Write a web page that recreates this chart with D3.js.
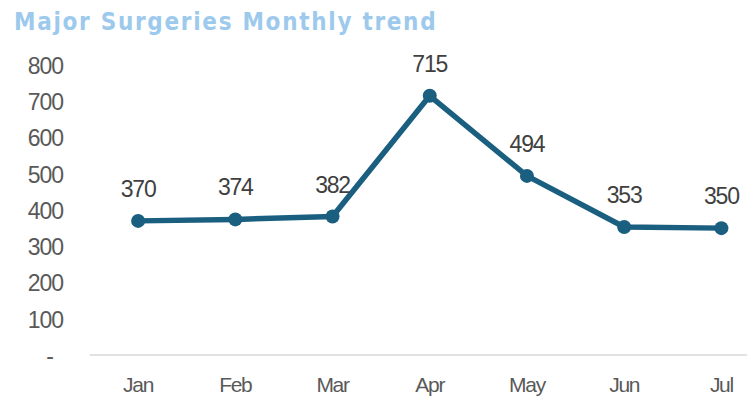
<!DOCTYPE html>
<html>
<head>
<meta charset="utf-8">
<script src="https://cdn.jsdelivr.net/npm/d3@7"></script>
<style>
  body { margin: 0; background: #fff; }
  svg { display: block; }
</style>
</head>
<body>
<svg width="747" height="405"></svg>
<script>
var months = ["Jan", "Feb", "Mar", "Apr", "May", "Jun", "Jul"];
var surgeries = [370, 374, 382, 715, 494, 353, 350];
var yTicks = [0, 100, 200, 300, 400, 500, 600, 700, 800];

var svg = d3.select("svg"),
    width = +svg.attr("width"),
    height = +svg.attr("height");

var x = d3.scaleBand()
    .domain(months)
    .range([89.5, 770]);

var y = d3.scaleLinear()
    .domain([0, 800])
    .range([355, 65]);

var labelFont = "'Liberation Sans', Arial, sans-serif";

// title
svg.append("text")
    .attr("x", 14)
    .attr("y", 30)
    .style("font-family", "'DejaVu Sans Condensed', 'DejaVu Sans', sans-serif")
    .style("font-weight", "bold")
    .style("font-size", "24px")
    .style("letter-spacing", "1.7px")
    .style("fill", "#9DCAEC")
    .text("Major Surgeries Monthly trend");

// y axis labels
var yAxis = d3.axisLeft(y)
    .tickValues(yTicks)
    .tickSize(0)
    .tickPadding(0)
    .tickFormat(function(d) { return d === 0 ? "-" : d; });

var yg = svg.append("g")
    .attr("transform", "translate(63,0)")
    .call(yAxis);
yg.select(".domain").remove();
yg.selectAll("text")
    .style("font-family", labelFont)
    .style("font-size", "23px")
    .style("letter-spacing", "-1px")
    .style("fill", "#595959")
    .attr("dy", "0.36em")
    .attr("x", function(d) { return d === 0 ? -10 : 0; });

// x axis
var xAxis = d3.axisBottom(x).tickSize(0).tickPadding(0);
var xg = svg.append("g")
    .attr("transform", "translate(0,355)")
    .call(xAxis);
xg.select(".domain")
    .attr("d", "M89.5,0H747")
    .style("stroke", "#d9d9d9")
    .style("stroke-width", 1.5);
xg.selectAll("text")
    .attr("y", 37)
    .attr("dy", "0")
    .style("font-family", labelFont)
    .style("font-size", "21px")
    .style("letter-spacing", "-1.3px")
    .style("fill", "#595959");

var cx = function(d, i) { return x(months[i]) + x.bandwidth() / 2; };

var line = d3.line()
    .x(function(d, i) { return cx(d, i); })
    .y(function(d) { return y(d); });

svg.append("path")
    .datum(surgeries)
    .attr("d", line)
    .style("fill", "none")
    .style("stroke", "#1A5F80")
    .style("stroke-width", 5.5)
    .style("stroke-linejoin", "round");

svg.selectAll("circle.pt")
    .data(surgeries)
    .enter().append("circle")
    .attr("class", "pt")
    .attr("cx", cx)
    .attr("cy", function(d) { return y(d); })
    .attr("r", 7)
    .style("fill", "#1A5F80");

svg.selectAll("text.lbl")
    .data(surgeries)
    .enter().append("text")
    .attr("class", "lbl")
    .attr("x", cx)
    .attr("y", function(d) { return y(d) - 24; })
    .attr("text-anchor", "middle")
    .style("font-family", labelFont)
    .style("font-size", "23px")
    .style("letter-spacing", "-1.2px")
    .style("fill", "#404040")
    .text(function(d) { return d; });
</script>
</body>
</html>
